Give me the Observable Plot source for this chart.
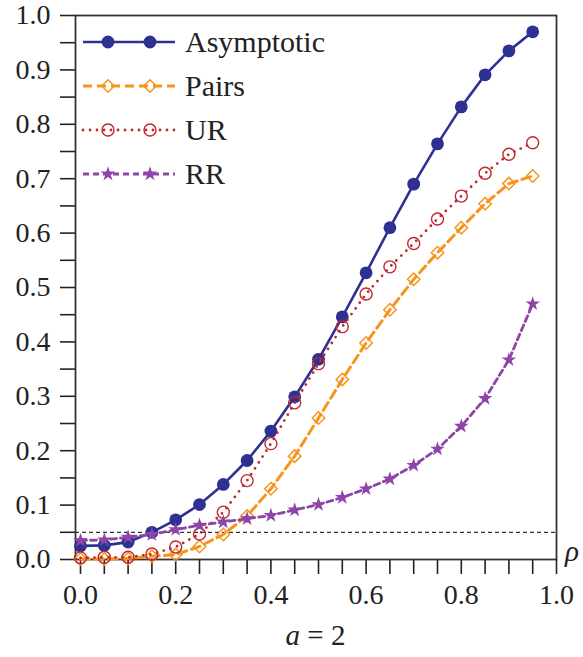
<!DOCTYPE html>
<html>
<head>
<meta charset="utf-8">
<script src="https://cdn.jsdelivr.net/npm/d3@7"></script>
<script src="https://cdn.jsdelivr.net/npm/@observablehq/plot@0.6"></script>
<style>
  html, body { margin: 0; padding: 0; background: #fff; }
  #chart svg { display: block; }
  #chart svg text, #chart svg tspan { font-family: 'Liberation Serif', serif !important; }
</style>
</head>
<body>
<div id="chart"></div>
<script>
const rho = [0, 0.05, 0.1, 0.15, 0.2, 0.25, 0.3, 0.35, 0.4, 0.45, 0.5, 0.55, 0.6, 0.65, 0.7, 0.75, 0.8, 0.85, 0.9, 0.95];
const asymptotic = [0.025, 0.026, 0.032, 0.050, 0.073, 0.101, 0.138, 0.182, 0.236, 0.299, 0.368, 0.446, 0.527, 0.610, 0.690, 0.764, 0.832, 0.891, 0.935, 0.970];
const pairs = [0.001, 0.001, 0.002, 0.006, 0.009, 0.024, 0.046, 0.080, 0.130, 0.190, 0.260, 0.331, 0.398, 0.459, 0.515, 0.564, 0.610, 0.654, 0.691, 0.705];
const ur = [0.003, 0.004, 0.004, 0.010, 0.023, 0.047, 0.087, 0.145, 0.213, 0.288, 0.360, 0.428, 0.488, 0.538, 0.581, 0.626, 0.668, 0.710, 0.745, 0.766];
const rr = [0.035, 0.036, 0.041, 0.046, 0.055, 0.063, 0.069, 0.075, 0.081, 0.091, 0.101, 0.114, 0.130, 0.148, 0.173, 0.203, 0.245, 0.296, 0.367, 0.470];

const seriesNames = ["Asymptotic", "Pairs", "UR", "RR"];
const colors = {Asymptotic: "#2e3192", Pairs: "#f7941d", UR: "#c0282d", RR: "#8e44a8"};
const xTicks = [0, 0.05, 0.1, 0.15, 0.2, 0.25, 0.3, 0.35, 0.4, 0.45, 0.5, 0.55, 0.6, 0.65, 0.7, 0.75, 0.8, 0.85, 0.9, 0.95, 1.0];
const yTicks = [0, 0.05, 0.1, 0.15, 0.2, 0.25, 0.3, 0.35, 0.4, 0.45, 0.5, 0.55, 0.6, 0.65, 0.7, 0.75, 0.8, 0.85, 0.9, 0.95, 1.0];
const xLabelTicks = [0, 0.2, 0.4, 0.6, 0.8, 1.0];
const yLabelTicks = [0, 0.1, 0.2, 0.3, 0.4, 0.5, 0.6, 0.7, 0.8, 0.9, 1.0];
const refLevel = 0.05;

const toRows = (name, vals) => rho.map((r, i) => ({series: name, rho: r, value: vals[i]}));
const dAsym = toRows("Asymptotic", asymptotic);
const dPairs = toRows("Pairs", pairs);
const dUR = toRows("UR", ur);
const dRR = toRows("RR", rr);

const FONT = "'Liberation Serif', serif";
const FS = 28;
const W = 583, H = 657;

const isLabel = (list) => (d) => list.some(v => Math.abs(v - d) < 1e-9) ? d3.format(".1f")(d) : "";

const chart = Plot.plot({
  width: W,
  height: H,
  marginLeft: 75,
  marginRight: 27,
  marginTop: 15,
  marginBottom: 98,
  style: {fontFamily: FONT, fontSize: FS + "px"},
  x: {domain: [-0.0105, 1], label: null},
  y: {domain: [0, 1], label: null},
  marks: [
    Plot.ruleY([refLevel], {stroke: "#000", strokeWidth: 1, strokeDasharray: "4,3"}),
    Plot.axisX({ticks: xTicks, tickSize: 15, tickPadding: 10, fontSize: FS, tickFormat: isLabel(xLabelTicks), stroke: "#222", strokeWidth: 1.6, fill: "#222", label: null}),
    Plot.axisY({ticks: yTicks, tickSize: 15, tickPadding: 10, fontSize: FS, tickFormat: isLabel(yLabelTicks), stroke: "#222", strokeWidth: 1.6, fill: "#222", label: null}),
    Plot.frame({stroke: "#333", strokeWidth: 1.8}),
    // Asymptotic
    Plot.line(dAsym, {x: "rho", y: "value", stroke: colors.Asymptotic, strokeWidth: 2.6}),
    Plot.dot(dAsym, {x: "rho", y: "value", r: 6.4, fill: colors.Asymptotic, stroke: "none"}),
    // Pairs
    Plot.line(dPairs, {x: "rho", y: "value", stroke: colors.Pairs, strokeWidth: 3, strokeDasharray: "9,5"}),
    Plot.dot(dPairs, {x: "rho", y: "value", symbol: "diamond2", r: 5.6, fill: "none", stroke: colors.Pairs, strokeWidth: 1.5}),
    // UR
    Plot.line(dUR, {x: "rho", y: "value", stroke: colors.UR, strokeWidth: 2.8, strokeDasharray: "0,7", strokeLinecap: "round"}),
    Plot.dot(dUR, {x: "rho", y: "value", r: 6, fill: "none", stroke: colors.UR, strokeWidth: 1.4}),
    // RR
    Plot.line(dRR, {x: "rho", y: "value", stroke: colors.RR, strokeWidth: 2.8, strokeDasharray: "6,4"}),
    Plot.dot(dRR, {x: "rho", y: "value", symbol: "star", r: 4.6, fill: colors.RR, stroke: "none"})
  ]
});

document.getElementById("chart").appendChild(chart);

// Extra text and legend
const svg = d3.select(chart);
const sx = chart.scale("x"), sy = chart.scale("y");

// x-axis title: a = 2
const title = svg.append("text")
  .attr("x", (sx.apply(-0.0105) + sx.apply(1)) / 2)
  .attr("y", 645)
  .attr("text-anchor", "middle")
  .attr("font-family", FONT)
  .attr("font-size", FS + 1)
  .attr("fill", "#222");
title.append("tspan").attr("font-style", "italic").text("a");
title.append("tspan").text(" = 2");

// rho label
svg.append("text")
  .attr("x", sx.apply(1) + 9)
  .attr("y", sy.apply(0) + 2)
  .attr("text-anchor", "start")
  .attr("font-family", FONT)
  .attr("font-style", "italic")
  .attr("font-size", FS + 1)
  .attr("fill", "#222")
  .text("ρ");

// legend
const leg = svg.append("g");
const legendStyles = {
  Asymptotic: {dash: null, width: 2.6, marker: "fcircle"},
  Pairs: {dash: "9,5", width: 3, marker: "diamond"},
  UR: {dash: "0,7", width: 2.8, marker: "ocircle", cap: "round"},
  RR: {dash: "6,4", width: 2.8, marker: "star"}
};
const rowY = [42, 86, 130, 174];
seriesNames.forEach((name, i) => {
  const st = legendStyles[name];
  const y = rowY[i];
  const c = colors[name];
  const ln = leg.append("line")
    .attr("x1", 83).attr("x2", 175).attr("y1", y).attr("y2", y)
    .attr("stroke", c).attr("stroke-width", st.width);
  if (st.dash) ln.attr("stroke-dasharray", st.dash);
  if (st.cap) ln.attr("stroke-linecap", st.cap);
  [108, 150].forEach(mx => {
    if (st.marker === "fcircle") {
      leg.append("circle").attr("cx", mx).attr("cy", y).attr("r", 6.4).attr("fill", c);
    } else if (st.marker === "ocircle") {
      leg.append("circle").attr("cx", mx).attr("cy", y).attr("r", 6).attr("fill", "none").attr("stroke", c).attr("stroke-width", 1.4);
    } else if (st.marker === "diamond") {
      leg.append("path").attr("transform", `translate(${mx},${y})`)
        .attr("d", d3.symbol(d3.symbolDiamond2, Math.PI * 5.6 * 5.6)())
        .attr("fill", "none").attr("stroke", c).attr("stroke-width", 1.5);
    } else if (st.marker === "star") {
      leg.append("path").attr("transform", `translate(${mx},${y})`)
        .attr("d", d3.symbol(d3.symbolStar, Math.PI * 4.6 * 4.6)())
        .attr("fill", c);
    }
  });
  leg.append("text")
    .attr("x", 185).attr("y", y + 10)
    .attr("text-anchor", "start")
    .attr("font-family", FONT).attr("font-size", FS + 2).attr("fill", "#222")
    .text(name);
});
</script>
</body>
</html>
